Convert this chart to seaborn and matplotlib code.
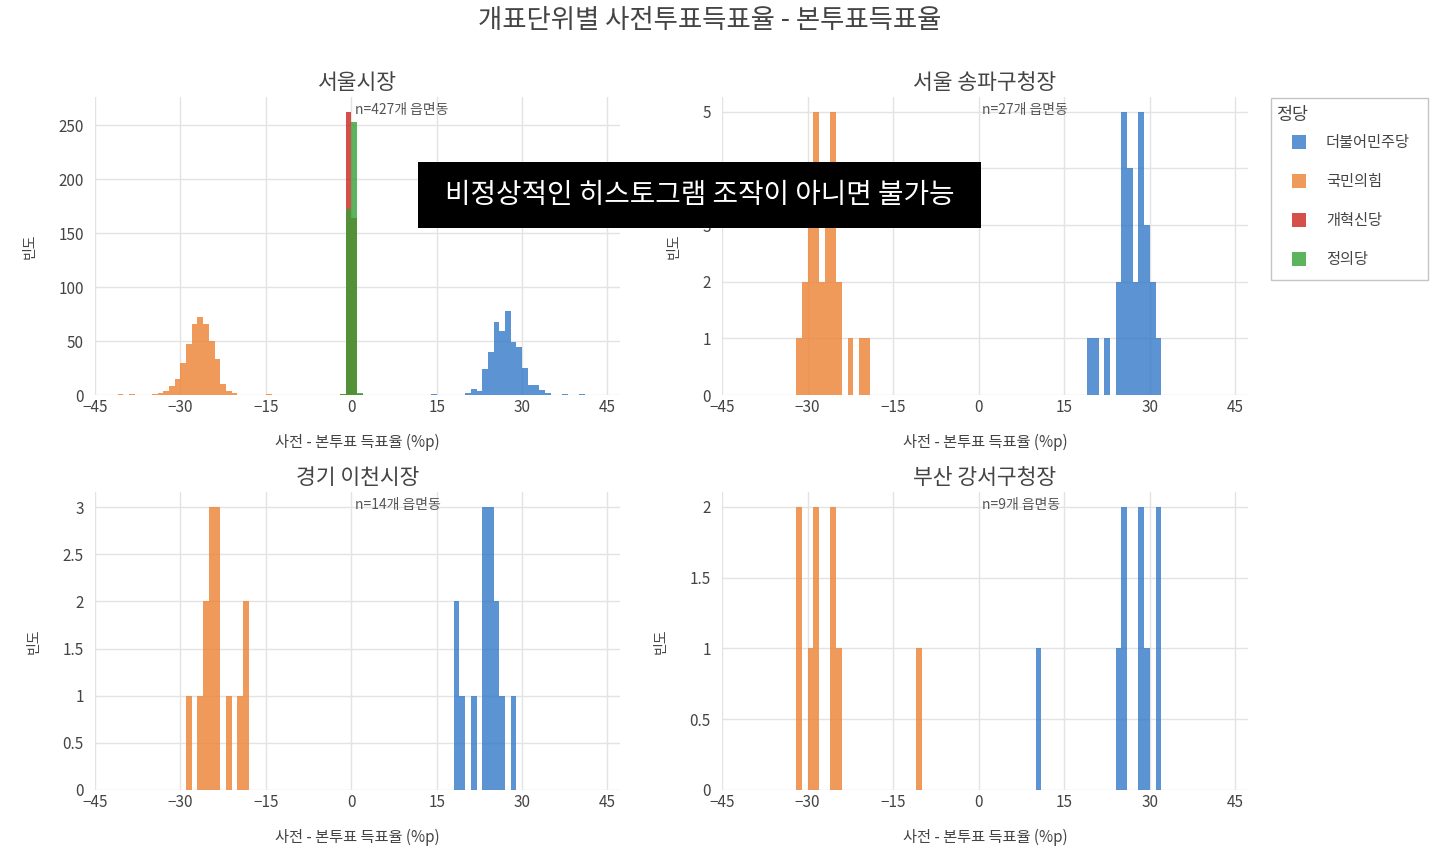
import matplotlib
matplotlib.use("Agg")
import matplotlib.pyplot as plt
import seaborn as sns
import pandas as pd
from matplotlib.patches import Patch, Rectangle
from matplotlib.legend_handler import HandlerPatch
from matplotlib.ticker import FuncFormatter

# ---------------- data ----------------
PARTIES = ["더불어민주당", "국민의힘", "개혁신당", "정의당"]
PARTY_COLORS = ["#3278c8", "#ec8031", "#cc241e", "#33a133"]

PANEL_TITLES = ["서울시장", "서울 송파구청장", "경기 이천시장", "부산 강서구청장"]
PANEL_N = [427, 27, 14, 9]
X_TICKS = [-45, -30, -15, 0, 15, 30, 45]
BIN_EDGES = list(range(-45, 49))
Y_TICKS = [[0, 50, 100, 150, 200, 250], [0, 1, 2, 3, 4, 5],
           [0, 0.5, 1, 1.5, 2, 2.5, 3], [0, 0.5, 1, 1.5, 2]]
Y_MAX = [276, 5.26, 3.16, 2.105]

# 서울시장 (bin left edge, count)
SEOUL_DEM_BINS = [14, 20, 21, 22, 23, 24, 25, 26, 27, 28, 29, 30, 31, 32, 33, 34, 37, 40]
SEOUL_DEM_COUNTS = [1, 2, 6, 4, 24, 40, 68, 59, 78, 49, 44, 25, 9, 9, 5, 2, 1, 1]
SEOUL_PPP_BINS = [-41, -39, -35, -34, -33, -32, -31, -30, -29, -28, -27, -26, -25, -24, -23, -22, -21, -15]
SEOUL_PPP_COUNTS = [1, 1, 1, 2, 4, 8, 15, 30, 47, 66, 72, 66, 50, 33, 10, 4, 2, 1]
SEOUL_REFORM_BINS = [-2, -1, 0, 1]
SEOUL_REFORM_COUNTS = [1, 262, 164, 1]
SEOUL_JUSTICE_BINS = [-2, -1, 0, 1]
SEOUL_JUSTICE_COUNTS = [1, 172, 253, 2]

# 서울 송파구청장
SONGPA_DEM_BINS = [19, 20, 22, 24, 25, 26, 27, 28, 29, 30, 31]
SONGPA_DEM_COUNTS = [1, 1, 1, 2, 5, 4, 2, 5, 3, 2, 1]
SONGPA_PPP_BINS = [-32, -31, -30, -29, -28, -27, -26, -25, -23, -21, -20]
SONGPA_PPP_COUNTS = [1, 2, 3, 5, 2, 3, 5, 2, 1, 1, 1]

# 경기 이천시장
ICHEON_DEM_BINS = [18, 19, 21, 23, 24, 25, 26, 28]
ICHEON_DEM_COUNTS = [2, 1, 1, 3, 3, 2, 1, 1]
ICHEON_PPP_BINS = [-29, -27, -26, -25, -24, -22, -20, -19]
ICHEON_PPP_COUNTS = [1, 1, 2, 3, 3, 1, 1, 2]

# 부산 강서구청장
GANGSEO_DEM_BINS = [10, 24, 25, 28, 29, 31]
GANGSEO_DEM_COUNTS = [1, 1, 2, 2, 1, 2]
GANGSEO_PPP_BINS = [-32, -30, -29, -26, -25, -11]
GANGSEO_PPP_COUNTS = [2, 1, 2, 2, 1, 1]

PANEL_SERIES = [
    [(0, SEOUL_DEM_BINS, SEOUL_DEM_COUNTS), (1, SEOUL_PPP_BINS, SEOUL_PPP_COUNTS),
     (2, SEOUL_REFORM_BINS, SEOUL_REFORM_COUNTS), (3, SEOUL_JUSTICE_BINS, SEOUL_JUSTICE_COUNTS)],
    [(0, SONGPA_DEM_BINS, SONGPA_DEM_COUNTS), (1, SONGPA_PPP_BINS, SONGPA_PPP_COUNTS)],
    [(0, ICHEON_DEM_BINS, ICHEON_DEM_COUNTS), (1, ICHEON_PPP_BINS, ICHEON_PPP_COUNTS)],
    [(0, GANGSEO_DEM_BINS, GANGSEO_DEM_COUNTS), (1, GANGSEO_PPP_BINS, GANGSEO_PPP_COUNTS)],
]

TITLE = "개표단위별 사전투표득표율 - 본투표득표율"
X_LABEL = "사전 - 본투표 득표율 (%p)"
Y_LABEL = "빈도"
LEGEND_TITLE = "정당"
OVERLAY_TEXT = "비정상적인 히스토그램 조작이 아니면 불가능"

# ---------------- style ----------------
sns.set_theme(style="whitegrid")
plt.rcParams["font.family"] = ["Noto Sans CJK KR", "DejaVu Sans"]
plt.rcParams["axes.unicode_minus"] = True

W, H = 1437, 858
fig = plt.figure(figsize=(W / 100, H / 100), dpi=100)
fig.patch.set_facecolor("white")

TEXT_C = "#444444"
GRID_C = "#e3e3e3"

col_left = [95, 722]
col_right = [620, 1248]
row_top = [97, 492]
row_bot = [395, 790]


def fmt(v, pos):
    if float(v).is_integer():
        s = str(int(v))
    else:
        s = f"{v:g}"
    return s.replace("-", "\u2212")


for i in range(4):
    r, c = divmod(i, 2)
    l = col_left[c] / W
    b = 1 - row_bot[r] / H
    w = (col_right[c] - col_left[c]) / W
    h = (row_bot[r] - row_top[r]) / H
    ax = fig.add_axes([l, b, w, h])
    for pidx, bins, counts in PANEL_SERIES[i]:
        df = pd.DataFrame({"x": [v + 0.5 for v in bins], "n": counts})
        sns.histplot(data=df, x="x", weights="n", bins=BIN_EDGES,
                     color=PARTY_COLORS[pidx], alpha=0.8, linewidth=0,
                     ax=ax, zorder=2 + pidx)
    ax.set_xlim(-45, 47.2)
    ax.set_ylim(0, Y_MAX[i])
    ax.set_xticks(X_TICKS)
    ax.set_yticks(Y_TICKS[i])
    ax.xaxis.set_major_formatter(FuncFormatter(fmt))
    ax.yaxis.set_major_formatter(FuncFormatter(fmt))
    ax.grid(True, color=GRID_C, linewidth=1.0)
    ax.set_axisbelow(True)
    for s in ax.spines.values():
        s.set_visible(False)
    ax.tick_params(axis="both", length=0, labelsize=11, colors=TEXT_C)
    ax.tick_params(axis="x", pad=3)
    ax.tick_params(axis="y", pad=8)
    ax.set_xlabel(X_LABEL, fontsize=11, color=TEXT_C, labelpad=13)
    ax.set_ylabel(Y_LABEL, fontsize=10, color=TEXT_C, labelpad=16)
    ax.set_title(PANEL_TITLES[i], fontsize=15.5, color=TEXT_C, pad=6)
    ax.text(0.6, 0.955, f"n={PANEL_N[i]}개 읍면동", transform=ax.get_xaxis_transform(),
            ha="left", va="center", fontsize=10, color="#555555")

fig.text(0.494, 0.976, TITLE, ha="center", va="center", fontsize=19, color=TEXT_C)


# legend: frame, title and entries
def square_patch(legend, orig_handle, xdescent, ydescent, width, height, fontsize):
    sq = height
    return Rectangle((-xdescent + width - sq, -ydescent + (height - sq) / 2), sq, sq)


fig.patches.append(Rectangle((1271 / W, 1 - 280 / H), (1428 - 1271) / W, (280 - 98) / H,
                             transform=fig.transFigure, facecolor="white",
                             edgecolor="#c4c4c4", linewidth=1.0, zorder=5))
fig.text(1276 / W, 1 - 115 / H, LEGEND_TITLE, ha="left", va="center",
         fontsize=12.5, color=TEXT_C, zorder=6)
handles = [Patch(facecolor=c, alpha=0.8, edgecolor="none") for c in PARTY_COLORS]
leg = fig.legend(handles, PARTIES, loc="upper left",
                 bbox_to_anchor=(1277 / W, 1 - 134 / H), bbox_transform=fig.transFigure,
                 frameon=False, fontsize=11,
                 labelspacing=1.45, handlelength=1.9, handleheight=1.0,
                 handletextpad=1.3, borderpad=0, borderaxespad=0,
                 handler_map={Patch: HandlerPatch(patch_func=square_patch)})
leg.set_zorder(7)
for t in leg.get_texts():
    t.set_color(TEXT_C)

# black overlay caption
fig.patches.append(Rectangle((418 / W, 1 - 228 / H), (981 - 418) / W, 66 / H,
                             transform=fig.transFigure, facecolor="black",
                             edgecolor="none", zorder=10))
fig.text((418 + 981) / 2 / W, 1 - 195 / H, OVERLAY_TEXT, ha="center", va="center",
         fontsize=20, color="white", zorder=11)

fig.savefig("out.png", dpi=100, facecolor="white")
